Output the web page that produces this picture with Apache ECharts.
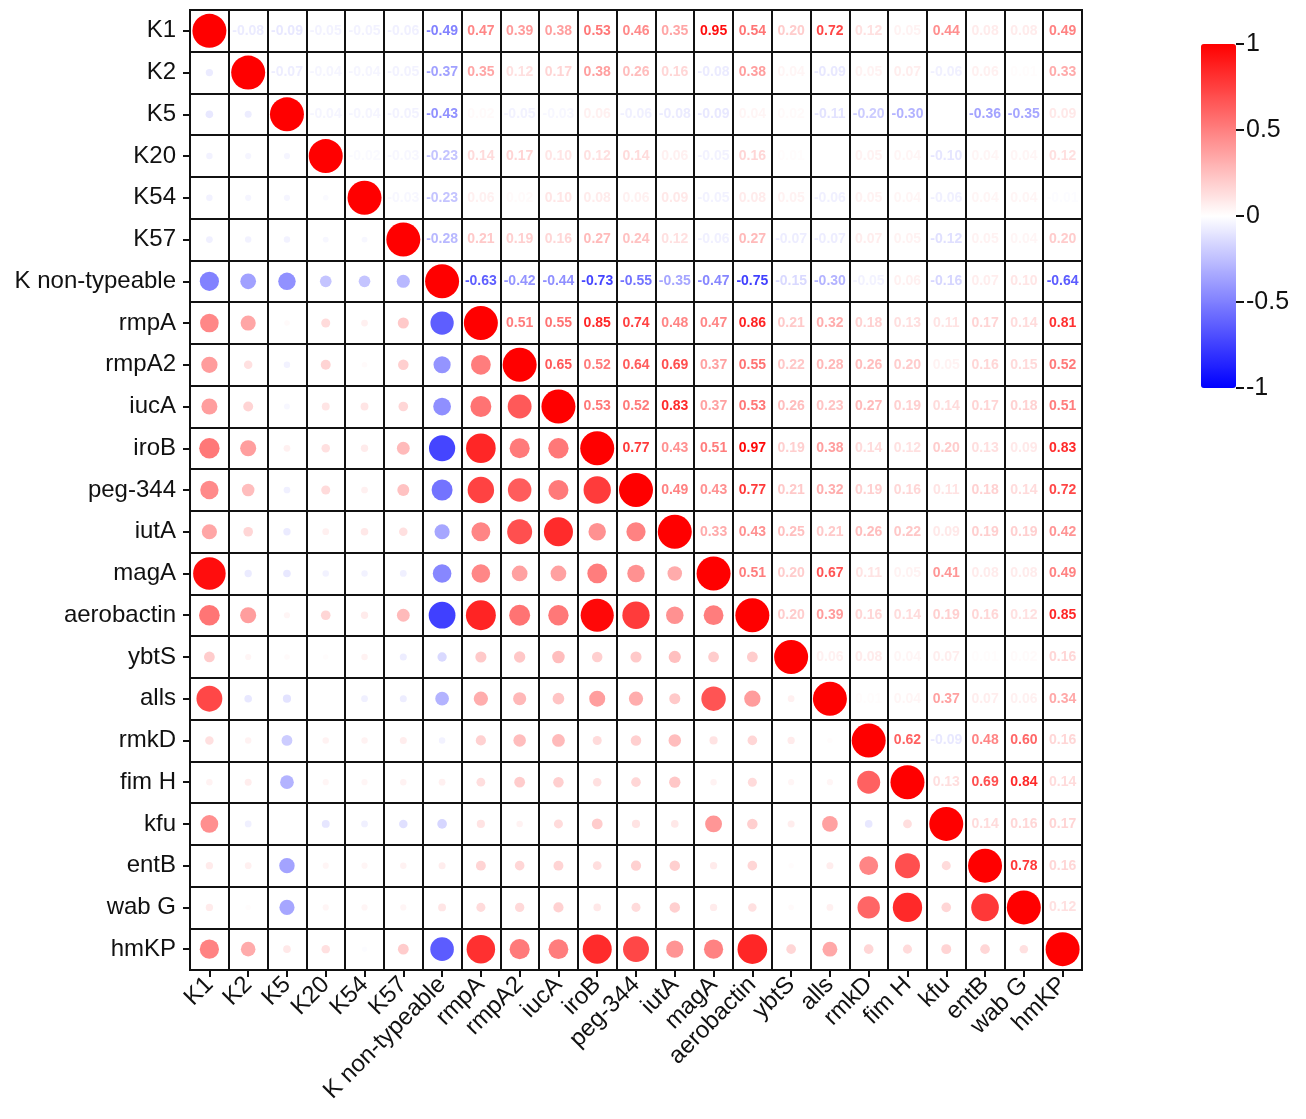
<!DOCTYPE html>
<html>
<head>
<meta charset="utf-8">
<script src="https://cdn.jsdelivr.net/npm/echarts@6/dist/echarts.min.js"></script>
<style>html,body{margin:0;padding:0;background:#fff}#c{width:1306px;height:1119px}</style>
</head>
<body>
<div id="c"></div>
<script>
const vars = ["K1","K2","K5","K20","K54","K57","K non-typeable","rmpA","rmpA2","iucA","iroB","peg-344","iutA","magA","aerobactin","ybtS","alls","rmkD","fim H","kfu","entB","wab G","hmKP"];

// upper-triangle correlations: each row = correlations with the variables after it
const rowK1   = [-0.08,-0.09,-0.05,-0.05,-0.06,-0.49,0.47,0.39,0.38,0.53,0.46,0.35,0.95,0.54,0.20,0.72,0.12,0.05,0.44,0.08,0.08,0.49];
const rowK2   = [-0.07,-0.04,-0.04,-0.05,-0.37,0.35,0.12,0.17,0.38,0.26,0.16,-0.08,0.38,0.04,-0.09,0.05,0.07,-0.06,0.06,0.01,0.33];
const rowK5   = [-0.04,-0.04,-0.05,-0.43,0.02,-0.05,-0.03,0.06,-0.06,-0.08,-0.09,0.04,0.02,-0.11,-0.20,-0.30,0.00,-0.36,-0.35,0.09];
const rowK20  = [-0.02,-0.03,-0.23,0.14,0.17,0.10,0.12,0.14,0.06,-0.05,0.16,0.01,0.00,0.05,0.04,-0.10,0.04,0.04,0.12];
const rowK54  = [-0.03,-0.23,0.06,0.02,0.10,0.08,0.06,0.09,-0.05,0.08,0.05,-0.06,0.05,0.04,-0.06,0.04,0.04,-0.01];
const rowK57  = [-0.28,0.21,0.19,0.16,0.27,0.24,0.12,-0.06,0.27,-0.07,-0.07,0.07,0.05,-0.12,0.05,0.04,0.20];
const rowKnt  = [-0.63,-0.42,-0.44,-0.73,-0.55,-0.35,-0.47,-0.75,-0.15,-0.30,-0.05,0.06,-0.16,0.07,0.10,-0.64];
const rowRmpA = [0.51,0.55,0.85,0.74,0.48,0.47,0.86,0.21,0.32,0.18,0.13,0.11,0.17,0.14,0.81];
const rowRmpA2= [0.65,0.52,0.64,0.69,0.37,0.55,0.22,0.28,0.26,0.20,0.05,0.16,0.15,0.52];
const rowIucA = [0.53,0.52,0.83,0.37,0.53,0.26,0.23,0.27,0.19,0.14,0.17,0.18,0.51];
const rowIroB = [0.77,0.43,0.51,0.97,0.19,0.38,0.14,0.12,0.20,0.13,0.09,0.83];
const rowPeg  = [0.49,0.43,0.77,0.21,0.32,0.19,0.16,0.11,0.18,0.14,0.72];
const rowIutA = [0.33,0.43,0.25,0.21,0.26,0.22,0.09,0.19,0.19,0.42];
const rowMagA = [0.51,0.20,0.67,0.11,0.05,0.41,0.08,0.08,0.49];
const rowAero = [0.20,0.39,0.16,0.14,0.19,0.16,0.12,0.85];
const rowYbtS = [0.06,0.08,0.04,0.07,0.01,0.02,0.16];
const rowAlls = [0.01,0.04,0.37,0.07,0.06,0.34];
const rowRmkD = [0.62,-0.09,0.48,0.60,0.16];
const rowFimH = [0.13,0.69,0.84,0.14];
const rowKfu  = [0.14,0.16,0.17];
const rowEntB = [0.78,0.16];
const rowWabG = [0.12];
const colorbarTicks = [1,0.5,0,-0.5,-1];

const upperRows = [rowK1,rowK2,rowK5,rowK20,rowK54,rowK57,rowKnt,rowRmpA,rowRmpA2,rowIucA,rowIroB,rowPeg,rowIutA,rowMagA,rowAero,rowYbtS,rowAlls,rowRmkD,rowFimH,rowKfu,rowEntB,rowWabG,[]];

const n = vars.length;
const M = [];
for (let i = 0; i < n; i++) { M.push(new Array(n).fill(0)); M[i][i] = 1; }
upperRows.forEach((row, i) => row.forEach((v, k) => { const j = i + 1 + k; M[i][j] = v; M[j][i] = v; }));

const circles = [], texts = [];
for (let i = 0; i < n; i++) for (let j = 0; j < n; j++) {
  if (j <= i) circles.push([j, i, M[i][j]]); else texts.push([j, i, M[i][j]]);
}

const FONT = '"Liberation Sans", Arial, sans-serif';
const chart = echarts.init(document.getElementById('c'), null, {renderer: 'canvas'});
chart.setOption({
  backgroundColor: '#ffffff',
  animation: false,
  grid: [
    {left: 190, top: 10, width: 892, height: 960, show: true, borderColor: '#111', borderWidth: 2, backgroundColor: '#fff'},
    {left: 1201, top: 44, width: 35, height: 344, show: false}
  ],
  xAxis: [
    {type: 'category', gridIndex: 0, data: vars, position: 'bottom',
     axisLine: {show: true, lineStyle: {color: '#111', width: 2}},
     axisTick: {show: true, alignWithLabel: true, length: 7, lineStyle: {color: '#111', width: 2}},
     axisLabel: {rotate: 45, fontSize: 24, color: '#111', fontFamily: FONT, margin: 11, interval: 0},
     splitLine: {show: true, interval: 0, lineStyle: {color: '#111', width: 2}}},
    {type: 'category', gridIndex: 1, data: [''], show: false}
  ],
  yAxis: [
    {type: 'category', gridIndex: 0, data: vars, inverse: true,
     axisLine: {show: true, lineStyle: {color: '#111', width: 2}},
     axisTick: {show: true, alignWithLabel: true, length: 7, lineStyle: {color: '#111', width: 2}},
     axisLabel: {fontSize: 24, color: '#111', fontFamily: FONT, margin: 14, interval: 0},
     splitLine: {show: true, interval: 0, lineStyle: {color: '#111', width: 2}}},
    {type: 'value', gridIndex: 1, min: -1, max: 1, interval: 0.5, position: 'right',
     axisLine: {show: false},
     axisTick: {show: true, length: 8, lineStyle: {color: '#111', width: 2}},
     axisLabel: {fontSize: 25, color: '#111', fontFamily: FONT, margin: 10,
       formatter: v => String(colorbarTicks.find(t => Math.abs(t - v) < 1e-9) ?? v)},
     splitLine: {show: false}}
  ],
  visualMap: {
    type: 'continuous', min: -1, max: 1, dimension: 2, seriesIndex: [0, 1],
    calculable: false, orient: 'vertical', left: 1201, top: 44, padding: 0,
    itemWidth: 35, itemHeight: 344, text: null, showLabel: false,
    inRange: {color: ['#0000ff', '#ffffff', '#ff0000']}
  },
  series: [
    {type: 'scatter', xAxisIndex: 0, yAxisIndex: 0, data: circles,
     symbol: 'circle',
     symbolSize: d => 5 + 29 * Math.abs(d[2]),
     itemStyle: {opacity: 1}, silent: true},
    {type: 'custom', xAxisIndex: 0, yAxisIndex: 0, data: texts,
     encode: {x: 0, y: 1},
     renderItem: (params, api) => {
       const p = api.coord([api.value(0), api.value(1)]);
       return {type: 'text', x: p[0], y: p[1],
         style: {text: api.value(2).toFixed(2), fill: api.visual('color'),
           font: 'bold 14px ' + FONT, align: 'center', verticalAlign: 'middle'}};
     }, silent: true}
  ]
});
</script>
</body>
</html>
